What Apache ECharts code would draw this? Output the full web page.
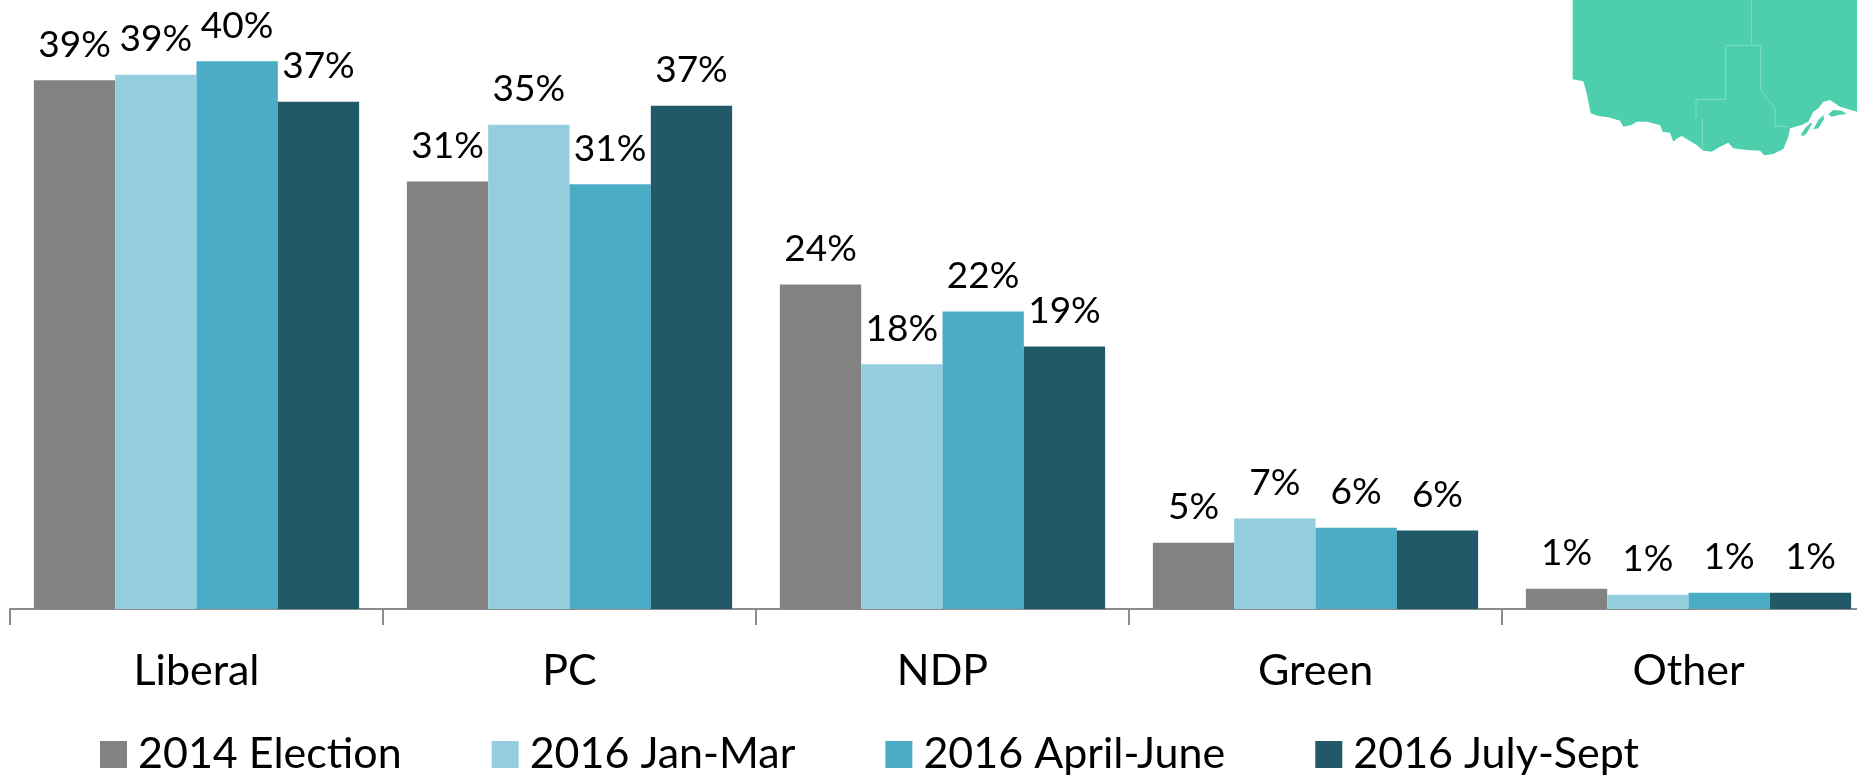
<!DOCTYPE html>
<html><head><meta charset="utf-8">
<style>html,body{margin:0;padding:0;background:#fff}#c{width:1857px;height:776px}</style>
<script src="https://cdn.jsdelivr.net/npm/echarts@6/dist/echarts.min.js"></script>
</head><body><div id="c"></div>
<script>
const categories = ['Liberal','PC','NDP','Green','Other'];
const seriesNames = ['2014 Election','2016 Jan-Mar','2016 April-June','2016 July-Sept'];
const colors = ['#828282','#94CDDE','#4BACC6','#215968'];
const election2014 = [39.1,31.6,24.0,4.9,1.5];
const janMar2016 = [39.5,35.8,18.1,6.7,1.05];
const aprJun2016 = [40.5,31.4,22.0,6.0,1.2];
const julSep2016 = [37.5,37.2,19.4,5.8,1.2];
const labels2014 = ['39%','31%','24%','5%','1%'];
const labelsJanMar = ['39%','35%','18%','7%','1%'];
const labelsAprJun = ['40%','31%','22%','6%','1%'];
const labelsJulSep = ['37%','37%','19%','6%','1%'];
const allValues = [election2014,janMar2016,aprJun2016,julSep2016];
const allLabels = [labels2014,labelsJanMar,labelsAprJun,labelsJulSep];
const FONT = 'Lato';
const toMap = p => p.map(([x,y]) => [1540 + x/3, y/3]);
const mapOutline = [[98,0],[98,238],[130,244],[140,280],[152,340],[175,348],[205,352],[240,362],[250,380],[275,375],[290,365],[320,365],[360,375],[368,395],[390,398],[400,425],[412,415],[425,408],[445,420],[470,435],[490,452],[515,455],[540,440],[565,428],[580,445],[620,450],[660,452],[672,466],[700,462],[730,447],[745,410],[750,385],[785,375],[805,365],[820,335],[835,325],[850,305],[870,300],[900,320],[951,335],[951,0]];
const mapIslands = [
  [[782,405],[795,385],[812,368],[816,372],[800,400],[790,408]],
  [[820,388],[835,360],[850,345],[852,358],[835,385]],
  [[865,342],[880,330],[905,332],[920,342],[895,345],[875,350]]
];
const mapBorders = [
  [[634,0],[634,136],[557,136],[557,298],[468,298],[468,355]],
  [[487,355],[487,450]],
  [[634,136],[662,136],[662,270],[705,325],[705,378],[745,380]]
];
const chart = echarts.init(document.getElementById('c'), null, {renderer:'canvas'});
chart.setOption({
  animation:false,
  backgroundColor:'#fff',
  textStyle:{fontFamily:FONT},
  grid:{left:10,top:0,width:1865,height:609,outerBoundsMode:'none'},
  legend:{
    left:95,top:728,itemWidth:27,itemHeight:27,itemGap:90,icon:'rect',
    textStyle:{fontFamily:FONT,fontSize:43,color:'#000',padding:[0,0,0,6]},
    data:seriesNames
  },
  xAxis:{type:'category',data:categories,
    axisLine:{show:true,lineStyle:{color:'#8c8c8c',width:2}},
    axisTick:{show:true,length:16,lineStyle:{color:'#8c8c8c',width:2}},
    axisLabel:{color:'#000',fontFamily:FONT,fontSize:43,margin:41}},
  yAxis:{type:'value',min:0,max:609/13.525,show:false,splitLine:{show:false}},
  series:seriesNames.map((name,i)=>({
    name,type:'bar',data:allValues[i],barGap:'0%',barCategoryGap:'12.8%',
    itemStyle:{color:colors[i]},
    label:{show:true,position:'top',distance:17,color:'#000',fontFamily:FONT,fontSize:37,
      formatter:p=>allLabels[i][p.dataIndex]}
  })),
  graphic:[
    {type:'polygon',silent:true,z:0,shape:{points:toMap(mapOutline)},style:{fill:'#4DCFAE'}},
    ...mapIslands.map(p=>({type:'polygon',silent:true,z:0,shape:{points:toMap(p)},style:{fill:'#4DCFAE'}})),
    ...mapBorders.map(b=>({type:'polyline',silent:true,z:1,shape:{points:toMap(b)},style:{fill:null,stroke:'#7FDDC6',lineWidth:1}}))
  ]
});
</script></body></html>
